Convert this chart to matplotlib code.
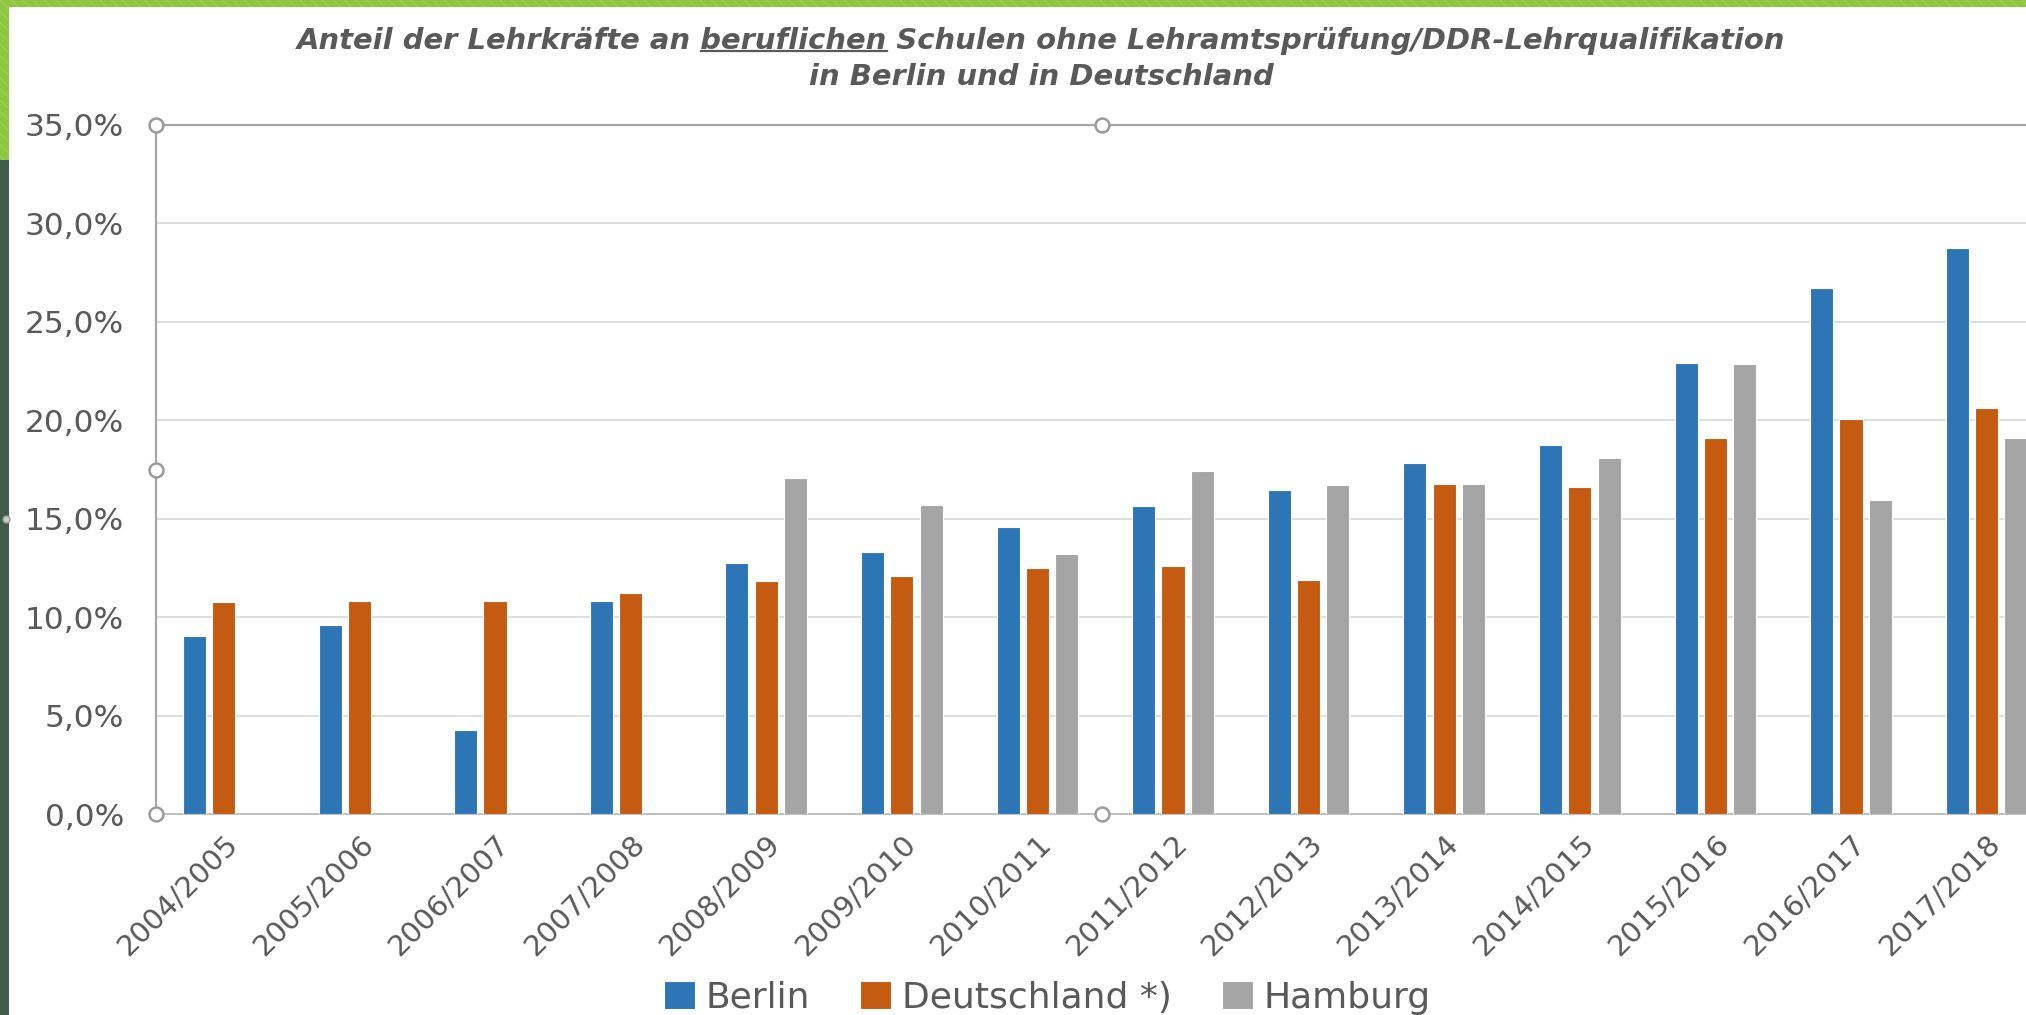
#!/usr/bin/env python3
"""Anteil der Lehrkräfte ohne Lehramtsprüfung an beruflichen Schulen - grouped bars."""
import numpy as np
import matplotlib
matplotlib.use("Agg")
import matplotlib.pyplot as plt
import matplotlib.patches as mpatches
from matplotlib.lines import Line2D
from matplotlib.ticker import FuncFormatter

BLUE = "#2E75B6"
ORANGE = "#C55A11"
GRAY = "#A5A5A5"
TEXT = "#595959"
GRID = "#D9D9D9"
FRAME = "#A6A6A6"
GREEN = "#8DC63F"
DARK = "#3E5B4C"

years = ["2004/2005", "2005/2006", "2006/2007", "2007/2008", "2008/2009",
         "2009/2010", "2010/2011", "2011/2012", "2012/2013", "2013/2014",
         "2014/2015", "2015/2016", "2016/2017", "2017/2018"]
berlin = [9.05, 9.6, 4.25, 10.8, 12.75, 13.3, 14.6, 15.65, 16.45, 17.85,
          18.75, 22.9, 26.7, 28.75]
deutschland = [10.75, 10.8, 10.8, 11.25, 11.85, 12.1, 12.5, 12.6, 11.9, 16.75,
               16.6, 19.1, 20.05, 20.6]
hamburg = [np.nan, np.nan, np.nan, np.nan, 17.05, 15.7, 13.2, 17.4, 16.7, 16.75,
           18.1, 22.85, 15.95, 19.1]
series_names = ["Berlin", "Deutschland *)", "Hamburg"]
yticks = [0, 5, 10, 15, 20, 25, 30, 35]

fig = plt.figure(figsize=(20.26, 10.15), dpi=100, facecolor="white")

# slide decoration: green top band, left strip
fig.patches.append(mpatches.Rectangle((0, 1 - 7 / 1015), 1, 7 / 1015, transform=fig.transFigure,
                                      facecolor=GREEN, edgecolor="#9FCD55", hatch="\\\\\\",
                                      linewidth=0, zorder=0))
fig.patches.append(mpatches.Rectangle((0, 1 - 160 / 1015), 9 / 2026, 160 / 1015,
                                      transform=fig.transFigure, facecolor=GREEN,
                                      edgecolor="#9FCD55", hatch="\\\\\\", linewidth=0, zorder=0))
fig.patches.append(mpatches.Rectangle((0, 0), 9 / 2026, 1 - 160 / 1015, transform=fig.transFigure,
                                      facecolor=DARK, linewidth=0, zorder=0))

ax = fig.add_axes([156 / 2026, 201 / 1015, 1 - 156 / 2026, 689 / 1015])
ax.set_facecolor("white")

x = np.arange(len(years))
off = 0.216
w = 0.17
for vals, col, shift, name in [(berlin, BLUE, -off, series_names[0]),
                               (deutschland, ORANGE, 0, series_names[1]),
                               (hamburg, GRAY, off, series_names[2])]:
    ax.bar(x + shift, vals, width=w, color=col, edgecolor="white", linewidth=0.8,
           label=name, zorder=3)

ax.set_xlim(-0.5, -0.5 + 1870 / 135.6)
ax.set_ylim(0, 35)
ax.set_yticks(yticks)
ax.yaxis.set_major_formatter(FuncFormatter(lambda v, p: f"{v:.1f}".replace(".", ",") + "%"))
ax.grid(axis="y", color=GRID, linewidth=1.2, zorder=0)
ax.set_axisbelow(True)

ax.spines["right"].set_visible(False)
ax.spines["left"].set_color(FRAME)
ax.spines["left"].set_linewidth(1.6)
ax.spines["top"].set_color(FRAME)
ax.spines["top"].set_linewidth(1.6)
ax.spines["bottom"].set_color("#BFBFBF")
ax.spines["bottom"].set_linewidth(1.4)

ax.tick_params(axis="y", length=0, pad=23, labelsize=22.5, labelcolor=TEXT)
ax.tick_params(axis="x", length=0, pad=11, labelsize=21, labelcolor=TEXT)
ax.set_xticks(x)
ax.set_xticklabels(years, rotation=45, ha="right", rotation_mode="anchor")

# selection handles of the chart frame
for hx, hy in [(0, 1), (0, 0.5), (0, 0), (0.506, 1), (0.506, 0)]:
    ax.add_line(Line2D([hx], [hy], transform=ax.transAxes, marker="o", markersize=10,
                       markerfacecolor="white", markeredgecolor="#9A9A9A",
                       markeredgewidth=1.8, clip_on=False, zorder=10))
fig.lines.append(Line2D([6 / 2026], [1 - 519 / 1015], transform=fig.transFigure, marker="o",
                        markersize=5, markerfacecolor="#CCCCCC", markeredgecolor="#9A9A9A",
                        markeredgewidth=1))

# title with underlined word
tprops = dict(fontfamily="DejaVu Sans", fontsize=20.9, fontweight="bold", fontstyle="oblique",
              color=TEXT)
line1 = "Anteil der Lehrkräfte an beruflichen Schulen ohne Lehramtsprüfung/DDR-Lehrqualifikation"
t1 = fig.text(0.514, 0.960, line1, ha="center", va="center", **tprops)
fig.text(0.514, 0.924, "in Berlin und in Deutschland", ha="center", va="center", **tprops)

fig.canvas.draw()
r = fig.canvas.get_renderer()
bb = t1.get_window_extent(r)
tmp = fig.text(0, 0, "Anteil der Lehrkräfte an beruflichen", **tprops)
wa = tmp.get_window_extent(r).width
tmp.set_text("beruflichen")
ww = tmp.get_window_extent(r).width
tmp.remove()
W, H = fig.bbox.width, fig.bbox.height
uy = (bb.y0 + 4) / H
fig.lines.append(Line2D([(bb.x0 + wa - ww) / W, (bb.x0 + wa) / W], [uy, uy],
                        transform=fig.transFigure, color=TEXT, linewidth=1.6))

leg = ax.legend(loc="center", bbox_to_anchor=(0.517, 0.017), bbox_transform=fig.transFigure,
                ncol=3, frameon=False, fontsize=26, handlelength=0.85, handleheight=0.8,
                handletextpad=0.3, columnspacing=1.4)
for t in leg.get_texts():
    t.set_color(TEXT)

fig.savefig("out.png", dpi=100, facecolor="white")
